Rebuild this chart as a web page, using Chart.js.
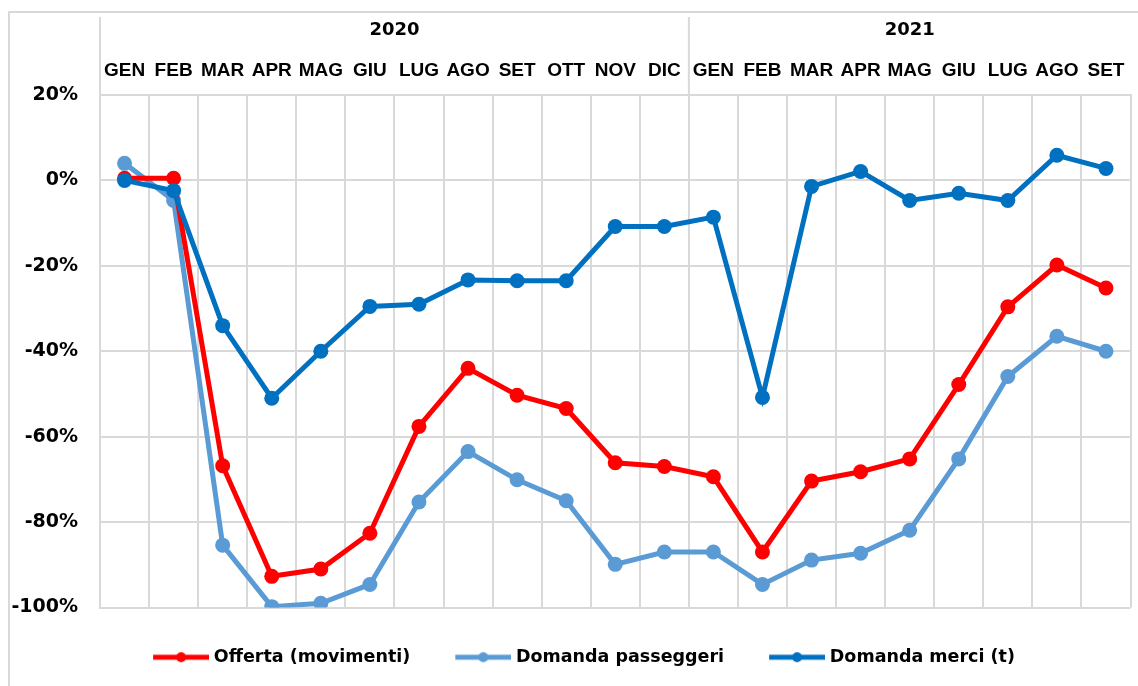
<!DOCTYPE html>
<html>
<head>
<meta charset="utf-8">
<script src="https://cdn.jsdelivr.net/npm/chart.js@4.4.1/dist/chart.umd.min.js"></script>
<style>
  html, body { margin: 0; padding: 0; background: #ffffff; }
  #wrap { width: 1138px; height: 686px; }
</style>
</head>
<body>
<div id="wrap"><canvas id="myChart" width="1138" height="686"></canvas></div>
<script>
// categories (top axis)
var months = ["GEN", "FEB", "MAR", "APR", "MAG", "GIU", "LUG", "AGO", "SET", "OTT", "NOV", "DIC",
  "GEN", "FEB", "MAR", "APR", "MAG", "GIU", "LUG", "AGO", "SET"];
var years = ["2020", "2021"];
var monthsPerYear = [12, 9];

// series values (% change)
var offerta = [0.5, 0.5, -66.8, -92.7, -91, -82.6, -57.6, -44, -50.3, -53.4, -66.1, -67,
  -69.4, -87, -70.4, -68.2, -65.2, -47.8, -29.6, -19.8, -25.2];
var passeggeri = [4, -4.7, -85.4, -99.8, -99, -94.6, -75.3, -63.5, -70.1, -75, -89.9, -87,
  -87, -94.6, -88.9, -87.3, -81.9, -65.2, -45.9, -36.5, -40];
var merci = [0, -2.4, -34, -51, -40, -29.5, -29, -23.3, -23.5, -23.5, -10.8, -10.8,
  -8.6, -50.8, -1.4, 2.1, -4.7, -3, -4.7, 5.9, 2.8];

var seriesNames = ["Offerta (movimenti)", "Domanda passeggeri", "Domanda merci (t)"];
var seriesColors = ["#ff0000", "#5b9bd5", "#0070c0"];

var gridColor = "#d9d9d9";

// legend icon: line with dot in the middle (shifted right so text sits closer)
function makeIcon(color) {
  var c = document.createElement("canvas");
  c.width = 64;
  c.height = 14;
  var g = c.getContext("2d");
  g.strokeStyle = color;
  g.lineWidth = 5;
  g.beginPath();
  g.moveTo(8, 7);
  g.lineTo(64, 7);
  g.stroke();
  g.fillStyle = color;
  g.beginPath();
  g.arc(36, 7, 5, 0, Math.PI * 2);
  g.fill();
  return c;
}
var legendIcons = seriesColors.map(makeIcon);

// frame, header separators and year labels
var headerPlugin = {
  id: "header",
  afterLayout: function (chart) {
    // legend sits a bit right of centre in the original
    chart.legend.left += 28;
  },
  beforeDraw: function (chart) {
    var ctx = chart.ctx;
    ctx.save();
    ctx.strokeStyle = gridColor;
    ctx.lineWidth = 2;
    ctx.beginPath();
    ctx.moveTo(9, 686);
    ctx.lineTo(9, 12);
    ctx.lineTo(1138, 12);
    ctx.stroke();
    ctx.restore();
  },
  afterDraw: function (chart) {
    var ctx = chart.ctx;
    var x = chart.scales.x;
    var step = x.getPixelForValue(1) - x.getPixelForValue(0);
    var top = chart.chartArea.top;
    ctx.save();
    ctx.strokeStyle = gridColor;
    ctx.lineWidth = 2;
    ctx.fillStyle = "#000000";
    ctx.font = "bold 18px 'DejaVu Sans'";
    ctx.textAlign = "center";
    ctx.textBaseline = "middle";
    var start = 0;
    for (var i = 0; i < years.length; i++) {
      var left = x.getPixelForValue(start) - step / 2;
      ctx.beginPath();
      ctx.moveTo(left, 17);
      ctx.lineTo(left, top);
      ctx.stroke();
      var end = start + monthsPerYear[i] - 1;
      var cx = (x.getPixelForValue(start) + x.getPixelForValue(end)) / 2;
      ctx.fillText(years[i], cx, 30);
      start += monthsPerYear[i];
    }
    ctx.restore();
  }
};

var ctx = document.getElementById("myChart").getContext("2d");
var datasets = [offerta, passeggeri, merci].map(function (vals, i) {
  return {
    label: seriesNames[i],
    data: vals,
    borderColor: seriesColors[i],
    backgroundColor: seriesColors[i],
    borderWidth: 5,
    pointRadius: 7.5,
    pointHoverRadius: 7.5,
    pointBorderWidth: 0,
    tension: 0,
    order: [2, 3, 1][i]
  };
});

var myChart = new Chart(ctx, {
  type: "line",
  data: { labels: months, datasets: datasets },
  plugins: [headerPlugin],
  options: {
    responsive: false,
    animation: false,
    layout: { padding: { left: 0, right: 2, top: 12, bottom: 10 } },
    scales: {
      x: {
        type: "category",
        position: "top",
        offset: true,
        grid: { offset: true, color: gridColor, lineWidth: 2, drawTicks: false },
        border: { color: gridColor, width: 2 },
        ticks: {
          color: "#000000",
          font: { family: "'Liberation Sans'", weight: "bold", size: 19 },
          padding: 13,
          maxRotation: 0,
          autoSkip: false
        },
        afterFit: function (scale) { scale.height = 83; }
      },
      y: {
        min: -100,
        max: 20,
        grid: { color: gridColor, lineWidth: 2, drawTicks: false },
        border: { color: gridColor, width: 2 },
        ticks: {
          stepSize: 20,
          color: "#000000",
          font: { family: "'DejaVu Sans'", weight: "bold", size: 19 },
          padding: 22,
          callback: function (v) { return v + "%"; }
        },
        afterFit: function (scale) { scale.width = 100; }
      }
    },
    plugins: {
      tooltip: { enabled: false },
      legend: {
        position: "bottom",
        labels: {
          usePointStyle: true,
          pointStyleWidth: 56,
          padding: 41,
          color: "#000000",
          font: { family: "'DejaVu Sans'", weight: "bold", size: 17.5 },
          sort: function (a, b) { return a.datasetIndex - b.datasetIndex; },
          generateLabels: function (chart) {
            var items = Chart.defaults.plugins.legend.labels.generateLabels(chart);
            items.forEach(function (item) { item.pointStyle = legendIcons[item.datasetIndex]; });
            return items;
          }
        }
      }
    }
  }
});
</script>
</body>
</html>
